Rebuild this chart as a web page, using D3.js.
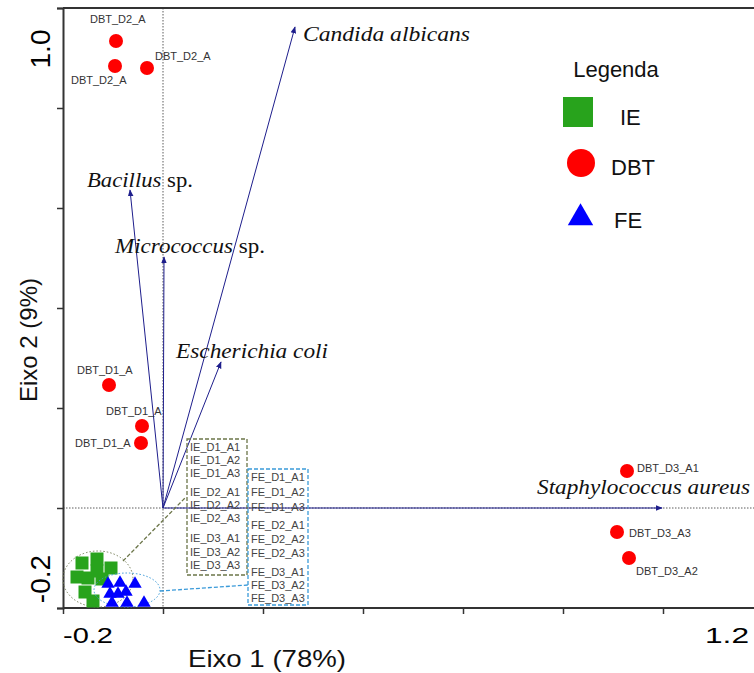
<!DOCTYPE html>
<html>
<head>
<meta charset="utf-8">
<script src="https://cdn.jsdelivr.net/npm/d3@7"></script>
<style>
  body { margin: 0; background: #fff; }
  svg { display: block; font-family: "Liberation Sans", Arial, sans-serif; }
</style>
</head>
<body>
<div id="chart"></div>
<script>
// Data
let xTicks = [-0.2, 0, 0.2, 0.4, 0.6, 0.8, 1.0, 1.2];
let yTicks = [-0.2, 0, 0.2, 0.4, 0.6, 0.8, 1.0];
let xTickLabels = ["-0.2", "1.2"];
let yTickLabels = ["-0.2", "1.0"];

// species vectors
let speciesNames = ["Candida albicans", "Bacillus", "Micrococcus", "Escherichia coli", "Staphylococcus aureus"];
let speciesSuffix = ["", " sp.", " sp.", "", ""];
let speciesX = [0.264, -0.066, 0.002, 0.116, 0.998];
let speciesY = [0.962, 0.636, 0.502, 0.292, 0.0];

// DBT samples
let dbtNames = ["DBT_D2_A", "DBT_D2_A", "DBT_D2_A", "DBT_D1_A", "DBT_D1_A", "DBT_D1_A", "DBT_D3_A1", "DBT_D3_A3", "DBT_D3_A2"];
let dbtX = [-0.094, -0.096, -0.032, -0.108, -0.042, -0.044, 0.928, 0.908, 0.932];
let dbtY = [0.934, 0.884, 0.880, 0.246, 0.164, 0.130, 0.074, -0.048, -0.100];

// IE samples
let ieNames = ["IE_D1_A1", "IE_D1_A2", "IE_D1_A3", "IE_D2_A1", "IE_D2_A2", "IE_D2_A3", "IE_D3_A1", "IE_D3_A2", "IE_D3_A3"];
let ieX = [-0.162, -0.132, -0.132, -0.104, -0.172, -0.122, -0.156, -0.140, -0.150];
let ieY = [-0.110, -0.102, -0.126, -0.120, -0.138, -0.142, -0.168, -0.186, -0.140];

// FE samples
let feNames = ["FE_D1_A1", "FE_D1_A2", "FE_D1_A3", "FE_D2_A1", "FE_D2_A2", "FE_D2_A3", "FE_D3_A1", "FE_D3_A2", "FE_D3_A3"];
let feX = [-0.110, -0.086, -0.056, -0.106, -0.090, -0.074, -0.102, -0.072, -0.038];
let feY = [-0.152, -0.150, -0.152, -0.172, -0.172, -0.168, -0.190, -0.190, -0.190];

let legendNames = ["IE", "DBT", "FE"];

// layout helpers (label offsets in px, not data)
let dbtLabelOffset = [[-26, -18], [-44, 18], [8, -8], [-32, -11], [-36, -11], [-66, 4], [10, 1], [12, 5], [7, 17]];
let speciesLabelOffset = [[8, 14], [-43, -3], [-49, -4], [-45, -4], [-125, -14]];
let speciesLabelWidth = [167, 106, 150, 152, 213];

let svgWidth = 754;
let svgHeight = 673;

let svg = d3.select("#chart")
    .append("svg")
    .attr("width", svgWidth)
    .attr("height", svgHeight);

// Scales
let xScale = d3.scaleLinear().domain([-0.2, 1.2]).range([63, 763]);
let yScale = d3.scaleLinear().domain([-0.2, 1.0]).range([608, 8]);

let navy = "#1e1e8c";

// arrow marker
svg.append("defs").append("marker")
    .attr("id", "arrow")
    .attr("viewBox", "0 0 10 10")
    .attr("refX", 9)
    .attr("refY", 5)
    .attr("markerWidth", 7)
    .attr("markerHeight", 7)
    .attr("markerUnits", "userSpaceOnUse")
    .attr("orient", "auto")
    .append("path")
    .attr("d", "M0,1 L10,5 L0,9 z")
    .attr("fill", navy);

// Reference dotted lines through origin
svg.append("line")
    .attr("x1", xScale(0)).attr("x2", xScale(0))
    .attr("y1", yScale(1.0)).attr("y2", yScale(-0.2))
    .attr("stroke", "#333").attr("stroke-width", 0.8)
    .attr("stroke-dasharray", "1.5,1.5");

svg.append("line")
    .attr("x1", xScale(-0.2)).attr("x2", svgWidth)
    .attr("y1", yScale(0)).attr("y2", yScale(0))
    .attr("stroke", "#333").attr("stroke-width", 0.8)
    .attr("stroke-dasharray", "1.5,1.5");

// Top frame line
svg.append("line")
    .attr("x1", xScale(-0.2)).attr("x2", svgWidth)
    .attr("y1", yScale(1.0)).attr("y2", yScale(1.0))
    .attr("stroke", "#333").attr("stroke-width", 2);

// Axes
let bottomAxis = d3.axisBottom(xScale).tickValues(xTicks).tickSize(6).tickFormat("");
let leftAxis = d3.axisLeft(yScale).tickValues(yTicks).tickSize(6).tickFormat("");

let xAxisG = svg.append("g")
    .attr("transform", `translate(0, ${yScale(-0.2)})`)
    .call(bottomAxis);
let yAxisG = svg.append("g")
    .attr("transform", `translate(${xScale(-0.2)}, 0)`)
    .call(leftAxis);

[xAxisG, yAxisG].forEach(g => {
    g.select(".domain").attr("stroke", "#333").attr("stroke-width", 2);
    g.selectAll(".tick line").attr("stroke", "#333").attr("stroke-width", 1.5);
});
xAxisG.select(".domain").attr("d", `M${xScale(-0.2)},0H${svgWidth}`);

// Tick labels (placed inside range like the original)
svg.append("text")
    .attr("x", xScale(-0.2))
    .attr("y", 643)
    .attr("font-size", 22)
    .attr("textLength", 50)
    .attr("lengthAdjust", "spacingAndGlyphs")
    .text(xTickLabels[0]);
svg.append("text")
    .attr("x", xScale(1.2) - 58)
    .attr("y", 643)
    .attr("font-size", 22)
    .attr("textLength", 44)
    .attr("lengthAdjust", "spacingAndGlyphs")
    .text(xTickLabels[1]);

svg.append("text")
    .attr("transform", `translate(50, ${yScale(-0.2) - 29}) rotate(-90)`)
    .attr("text-anchor", "middle")
    .attr("font-size", 28)
    .text(yTickLabels[0]);
svg.append("text")
    .attr("transform", `translate(50, ${yScale(1.0) + 41}) rotate(-90)`)
    .attr("text-anchor", "middle")
    .attr("font-size", 28)
    .text(yTickLabels[1]);

// Axis titles
svg.append("text")
    .attr("x", 188)
    .attr("y", 667)
    .attr("font-size", 24)
    .attr("textLength", 158)
    .attr("lengthAdjust", "spacingAndGlyphs")
    .attr("fill", "#111")
    .text("Eixo 1 (78%)");

svg.append("text")
    .attr("transform", "translate(37, 340) rotate(-90)")
    .attr("text-anchor", "middle")
    .attr("font-size", 24)
    .attr("fill", "#111")
    .text("Eixo 2 (9%)");

// Cluster ellipses
svg.append("ellipse")
    .attr("cx", xScale(-0.13)).attr("cy", yScale(-0.142))
    .attr("rx", 35).attr("ry", 28)
    .attr("fill", "none").attr("stroke", "#77805a").attr("stroke-width", 1)
    .attr("stroke-dasharray", "1.5,2");

// Species vectors
let speciesData = speciesNames.map((n, i) => ({ name: n, suffix: speciesSuffix[i], x: speciesX[i], y: speciesY[i], i: i }));

svg.append("g").selectAll("line")
    .data(speciesData)
    .enter()
    .append("line")
    .attr("x1", xScale(0)).attr("y1", yScale(0))
    .attr("x2", d => xScale(d.x))
    .attr("y2", d => yScale(d.y))
    .attr("stroke", navy)
    .attr("stroke-width", 1)
    .attr("marker-end", "url(#arrow)");

let speciesText = svg.append("g").selectAll("text")
    .data(speciesData)
    .enter()
    .append("text")
    .attr("x", d => xScale(d.x) + speciesLabelOffset[d.i][0])
    .attr("y", d => yScale(d.y) + speciesLabelOffset[d.i][1])
    .attr("font-family", "'Liberation Serif', 'Times New Roman', serif")
    .attr("font-size", 22)
    .attr("fill", "#111")
    .attr("textLength", d => speciesLabelWidth[d.i])
    .attr("lengthAdjust", "spacingAndGlyphs");
speciesText.append("tspan").attr("font-style", "italic").text(d => d.name);
speciesText.append("tspan").text(d => d.suffix);

// Leader lines to label boxes
svg.append("line")
    .attr("x1", 123).attr("y1", 561).attr("x2", 186).attr("y2", 497)
    .attr("stroke", "#6b7548").attr("stroke-width", 1.3)
    .attr("stroke-dasharray", "4,2");
svg.append("line")
    .attr("x1", 160).attr("y1", 591).attr("x2", 248).attr("y2", 585)
    .attr("stroke", "#3a9ad9").attr("stroke-width", 1.3)
    .attr("stroke-dasharray", "4,2");

// IE squares
let sq = 13;
svg.append("g").selectAll("rect")
    .data(ieX.map((v, i) => ({ x: v, y: ieY[i] })))
    .enter()
    .append("rect")
    .attr("x", d => xScale(d.x) - sq / 2)
    .attr("y", d => yScale(d.y) - sq / 2)
    .attr("width", sq).attr("height", sq)
    .attr("fill", "#28a31c");

svg.append("ellipse")
    .attr("cx", xScale(-0.072)).attr("cy", yScale(-0.164))
    .attr("rx", 33).attr("ry", 17)
    .attr("fill", "none").attr("stroke", "#3a9ad9").attr("stroke-width", 1)
    .attr("stroke-dasharray", "1.5,2");

// FE triangles
svg.append("g").selectAll("path")
    .data(feX.map((v, i) => ({ x: v, y: feY[i] })))
    .enter()
    .append("path")
    .attr("d", d3.symbol().type(d3.symbolTriangle).size(78))
    .attr("transform", d => `translate(${xScale(d.x)}, ${yScale(d.y)})`)
    .attr("fill", "#0000ff");

// DBT circles
let dbtData = dbtNames.map((n, i) => ({ name: n, x: dbtX[i], y: dbtY[i], i: i }));
svg.append("g").selectAll("circle")
    .data(dbtData)
    .enter()
    .append("circle")
    .attr("cx", d => xScale(d.x))
    .attr("cy", d => yScale(d.y))
    .attr("r", 7)
    .attr("fill", "#ff0000");

svg.append("g").selectAll("text")
    .data(dbtData)
    .enter()
    .append("text")
    .attr("x", d => xScale(d.x) + dbtLabelOffset[d.i][0])
    .attr("y", d => yScale(d.y) + dbtLabelOffset[d.i][1])
    .attr("font-size", 11)
    .attr("fill", "#333")
    .text(d => d.name);

// Label boxes
function labelBox(names, x0, y0, w, h, rowY, color) {
    svg.append("rect")
        .attr("x", x0).attr("y", y0).attr("width", w).attr("height", h)
        .attr("fill", "none")
        .attr("stroke", color).attr("stroke-width", 1.3)
        .attr("stroke-dasharray", "4,2");
    svg.append("g").selectAll("text")
        .data(names)
        .enter()
        .append("text")
        .attr("x", x0 + 3)
        .attr("y", (d, i) => rowY[i] + 4)
        .attr("font-size", 11)
        .attr("fill", "#444")
        .text(d => d);
}
labelBox(ieNames, 187, 439, 60, 136, [447, 460, 473, 492, 505, 518, 538, 552, 565], "#6b7548");
labelBox(feNames, 248, 469, 60, 136, [477, 492, 507, 525, 539, 553, 572, 585, 598], "#3a9ad9");

// Legend
let legend = svg.append("g");
legend.append("text")
    .attr("x", 616).attr("y", 77)
    .attr("text-anchor", "middle")
    .attr("font-size", 22)
    .attr("fill", "#111")
    .text("Legenda");

legend.append("rect")
    .attr("x", 563).attr("y", 97).attr("width", 30).attr("height", 30)
    .attr("fill", "#28a31c");
legend.append("circle")
    .attr("cx", 581).attr("cy", 163).attr("r", 14)
    .attr("fill", "#ff0000");
legend.append("path")
    .attr("d", d3.symbol().type(d3.symbolTriangle).size(280))
    .attr("transform", "translate(580.5, 218)")
    .attr("fill", "#0000ff");

legend.selectAll("text.lbl")
    .data(legendNames)
    .enter()
    .append("text")
    .attr("class", "lbl")
    .attr("x", (d, i) => [620, 611, 614][i])
    .attr("y", (d, i) => [125, 175, 228][i])
    .attr("font-size", 22)
    .attr("fill", "#111")
    .text(d => d);
</script>
</body>
</html>
